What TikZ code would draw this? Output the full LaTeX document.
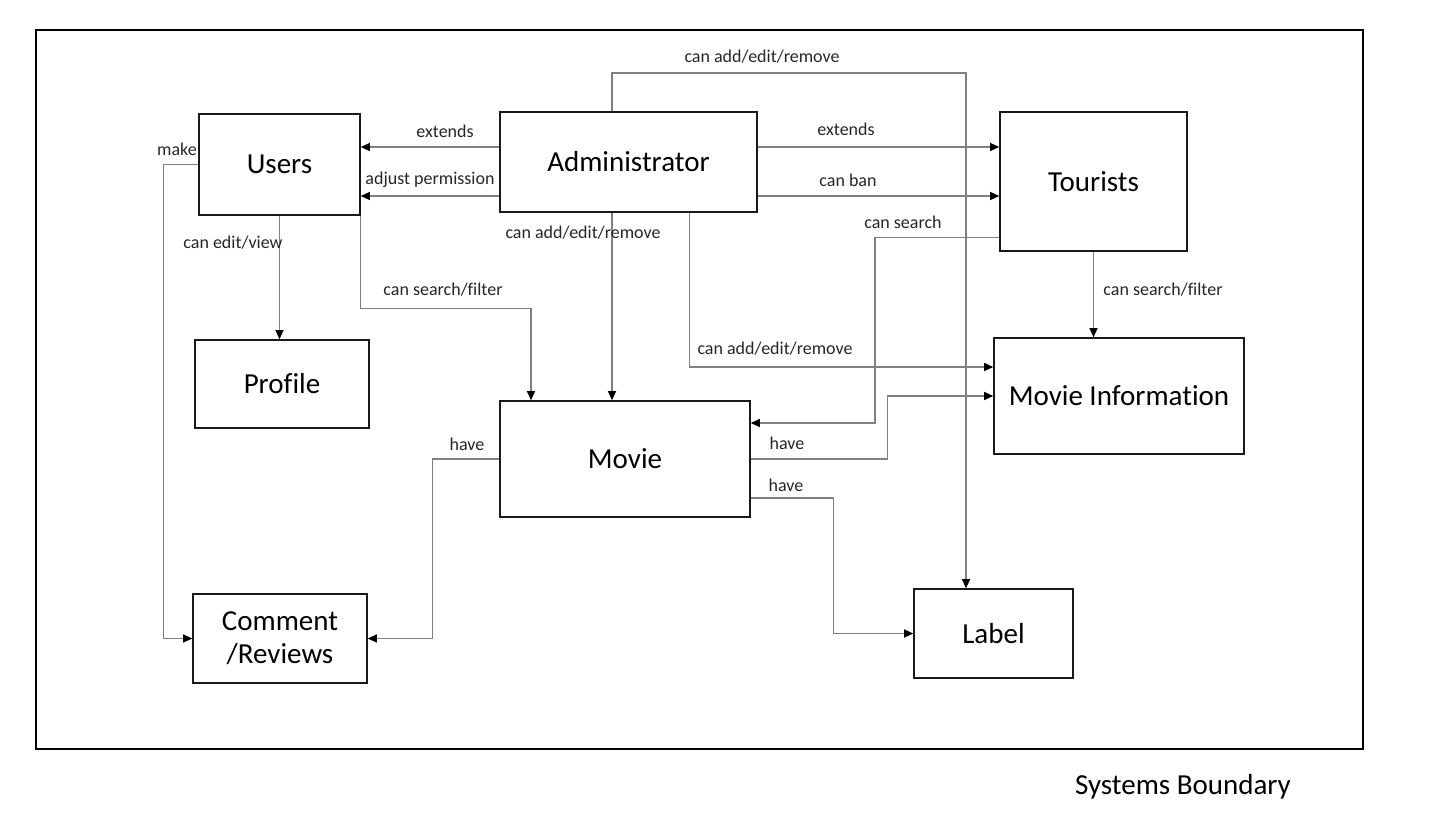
\documentclass[tikz,border=0pt]{standalone}
\usepackage{fontspec}
\setmainfont[Ligatures=NoCommon]{Carlito}
\usetikzlibrary{arrows.meta}

\begin{document}
\begin{tikzpicture}[x=1pt, y=-1pt,
		box/.style={draw=black!90, line width=1.6pt, inner sep=0pt, align=center, font=\fontsize{29}{33}\selectfont},
		conn/.style={draw=black!50, line width=1.1pt, -{Triangle[length=9pt, width=8pt, color=black]}},
		lbl/.style={inner sep=0pt, text=black!85, font=\fontsize{18}{20}\selectfont}]
		%%%%% START %%%%%
		
		\useasboundingbox (0, 0) rectangle (1447, 816);
		\draw[line width=1.5pt] (36, 30) rectangle (1363, 749);
		\node[inner sep=0pt, font=\fontsize{29}{33}\selectfont] (sysname) at (1183, 787) {Systems Boundary};
		
		\node[box, minimum width=161pt, minimum height=101pt] (users) at (279.5, 164.5) {Users};
		\node[box, minimum width=257pt, minimum height=100pt] (admin) at (628.5, 162) {Administrator};
		\node[box, minimum width=187pt, minimum height=139pt] (tourists) at (1093.5, 181.5) {Tourists};
		\node[box, minimum width=174pt, minimum height=88pt] (profile) at (282, 384) {Profile};
		\node[box, minimum width=250pt, minimum height=116pt] (movie) at (625, 459) {Movie};
		\node[box, minimum width=250pt, minimum height=116pt] (movieinfo) at (1119, 396) {Movie Information};
		\node[box, minimum width=174pt, minimum height=89pt] (comment) at (280, 638.5) {Comment\\/Reviews};
		\node[box, minimum width=159pt, minimum height=89pt] (label) at (993.5, 633.5) {Label};
		
		\coordinate (bendlabel) at (966, 73);
		\coordinate (bendsearch) at (875, 330);
		
		\draw[conn] ([yshift=15pt]admin.west) -- ([yshift=15pt]admin.west -| users.east);
		\draw[conn] ([yshift=-34pt]admin.west) -- ([yshift=-34pt]admin.west -| users.east);
		\draw[conn] ([yshift=15pt]admin.east) -- ([yshift=15pt]admin.east -| tourists.west);
		\draw[conn] ([yshift=-34pt]admin.east) -- ([yshift=-34pt]admin.east -| tourists.west);
		
		\draw[conn] ([xshift=-16.5pt]admin.north) |- (bendlabel) -- (bendlabel |- label.north);
		\draw[conn] ([xshift=-16.5pt]admin.south) -- ([xshift=-16.5pt]admin.south |- movie.north);
		\draw[conn] ([xshift=61pt]admin.south) |- ([yshift=29pt]movieinfo.west);
		
		\draw[conn] ([yshift=-56pt]tourists.west) -| (bendsearch) |- ([yshift=36pt]movie.east);
		\draw[conn] (tourists.south) -- (tourists.south |- movieinfo.north);
		
		\draw[conn] (users.south) -- (users.south |- profile.north);
		\draw[conn] (users.south east) -- ++(0, 93) -| ([xshift=-94pt]movie.north);
		\draw[conn] (users.west) -- ++(-35, 0) |- (comment.west);
		
		\draw[conn] (movie.west) -- ++(-67, 0) |- (comment.east);
		\draw[conn] (movie.east) -- ++(137, 0) |- (movieinfo.west);
		\draw[conn] ([yshift=-39pt]movie.east) -- ++(83, 0) |- (label.west);
		
		\node[lbl] (lmake) at (177, 149) {make};
		\node[lbl] (lextendsu) at (445, 131) {extends};
		\node[lbl] (ladjust) at (430, 180) {adjust permission};
		\node[lbl] (lextendst) at (846, 129) {extends};
		\node[lbl] (lban) at (848, 180) {can ban};
		\node[lbl] (laddlabel) at (762, 57) {can add/edit/remove};
		\node[lbl] (laddmovie) at (583, 233) {can add/edit/remove};
		\node[lbl] (laddinfo) at (775, 349) {can add/edit/remove};
		\node[lbl] (lsearch) at (903, 222) {can search};
		\node[lbl] (lfiltert) at (1163, 290) {can search/filter};
		\node[lbl] (lfilteru) at (443, 290) {can search/filter};
		\node[lbl] (leditview) at (233, 243) {can edit/view};
		\node[lbl] (lhavec) at (467, 444) {have};
		\node[lbl] (lhavei) at (787, 443) {have};
		\node[lbl] (lhavel) at (786, 485) {have};
		
		%%%%% END %%%%%
	\end{tikzpicture}
\end{document}
